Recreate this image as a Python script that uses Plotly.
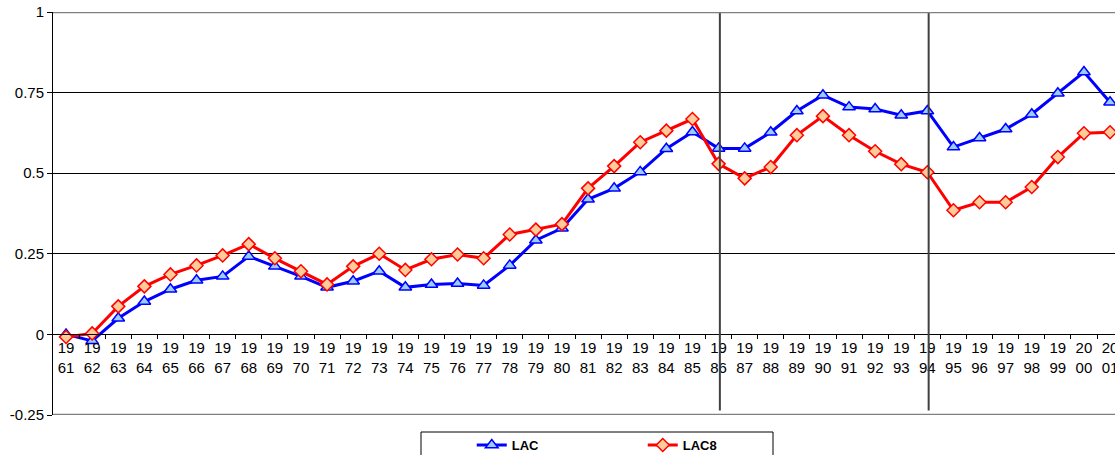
import plotly.graph_objects as go

years = list(range(1961, 2002))
lac = [0.00, -0.02, 0.05, 0.102, 0.14, 0.168, 0.18, 0.242, 0.211, 0.18,
       0.146, 0.165, 0.196, 0.146, 0.155, 0.158, 0.152, 0.214, 0.292, 0.329,
       0.419, 0.453, 0.504, 0.576, 0.628, 0.577, 0.577, 0.627, 0.693, 0.742,
       0.705, 0.699, 0.68, 0.693, 0.581, 0.609, 0.637, 0.683, 0.748, 0.814,
       0.72]
lac8 = [-0.008, 0.003, 0.087, 0.149, 0.186, 0.214, 0.245, 0.28, 0.236, 0.196,
        0.155, 0.211, 0.25, 0.2, 0.233, 0.248, 0.236, 0.31, 0.325, 0.342,
        0.453, 0.522, 0.596, 0.632, 0.668, 0.529, 0.484, 0.519, 0.618, 0.677,
        0.618, 0.568, 0.528, 0.503, 0.385, 0.41, 0.41, 0.457, 0.55, 0.624,
        0.627]
ytick_vals = [-0.25, 0, 0.25, 0.5, 0.75, 1]
ytick_text = ["-0.25", "0", "0.25", "0.5", "0.75", "1"]
marked_years = [1986, 1994]

tick_text = [f"{str(y)[:2]}<br>{str(y)[2:]}" for y in years]
font_family = "Liberation Sans, Arial, sans-serif"

fig = go.Figure()
fig.add_trace(go.Scatter(
    x=years, y=lac, name="LAC", mode="lines+markers",
    line=dict(color="#0000FF", width=3),
    marker=dict(symbol="triangle-up", size=11, color="#99CCFF",
                line=dict(color="#0000FF", width=1.5)),
))
fig.add_trace(go.Scatter(
    x=years, y=lac8, name="LAC8", mode="lines+markers",
    line=dict(color="#FF0000", width=3),
    marker=dict(symbol="diamond", size=10, color="#FFCC99",
                line=dict(color="#FF0000", width=1.5)),
))

W, H = 1115, 455
ml, mr, mt, mb = 53, 0, 12, 40
pw = W - ml - mr
ph = H - mt - mb
cat_w = 26.1

shapes = []
for yr in marked_years:
    shapes.append(dict(type="line", xref="x", yref="y", x0=yr + 0.05, x1=yr + 0.05,
                       y0=-0.236, y1=1, line=dict(color="#404040", width=2)))
# plot-area border (top and bottom)
for yv in (1, -0.25):
    shapes.append(dict(type="line", xref="paper", yref="y", x0=0, x1=1,
                       y0=yv, y1=yv, line=dict(color="#808080", width=2.5)))
# legend box
lx0, lx1, ly0 = 421, 773, 432
shapes.append(dict(type="rect", xref="paper", yref="paper",
                   x0=(lx0 - ml) / pw, x1=(lx1 - ml) / pw,
                   y0=(H - mb - ly0) / ph, y1=(H - mb - 480) / ph,
                   line=dict(color="black", width=1), fillcolor="white",
                   layer="below"))

fig.update_layout(
    width=W, height=H,
    margin=dict(l=ml, r=mr, t=mt, b=mb, autoexpand=False),
    paper_bgcolor="white", plot_bgcolor="white",
    font=dict(family=font_family, size=15, color="black"),
    showlegend=True,
    legend=dict(orientation="h", x=(476 - ml) / pw - 0.004, xanchor="left",
                y=(H - mb - 430) / ph, yanchor="top",
                bgcolor="rgba(0,0,0,0)", borderwidth=0,
                entrywidth=126, entrywidthmode="pixels",
                font=dict(family=font_family, size=13, weight="bold")),
    shapes=shapes,
    xaxis=dict(
        range=[years[0] - 0.5, years[0] - 0.5 + pw / cat_w],
        tickmode="array", tickvals=years, ticktext=tick_text,
        ticks="", showgrid=False, zeroline=False,
        showline=True, linecolor="black", linewidth=1,
        anchor="free", position=0.25 / 1.25,
        tickfont=dict(size=15), ticklabeloverflow="allow",
        minor=dict(tickmode="array",
                   tickvals=[y + 0.5 for y in years],
                   ticks="outside", ticklen=4, tickcolor="black",
                   tickwidth=1, showgrid=False),
    ),
    yaxis=dict(
        range=[-0.25, 1], tickmode="array", tickvals=ytick_vals,
        ticktext=ytick_text, ticks="outside", ticklen=5, tickcolor="black",
        showgrid=True, gridcolor="black", gridwidth=1, zeroline=False,
        showline=True, linecolor="black", linewidth=1,
        tickfont=dict(size=15),
    ),
)

fig.write_html(
    "out.html",
    config={"displayModeBar": False},
    post_script="document.body.style.margin='0';document.body.style.overflow='hidden';",
)
